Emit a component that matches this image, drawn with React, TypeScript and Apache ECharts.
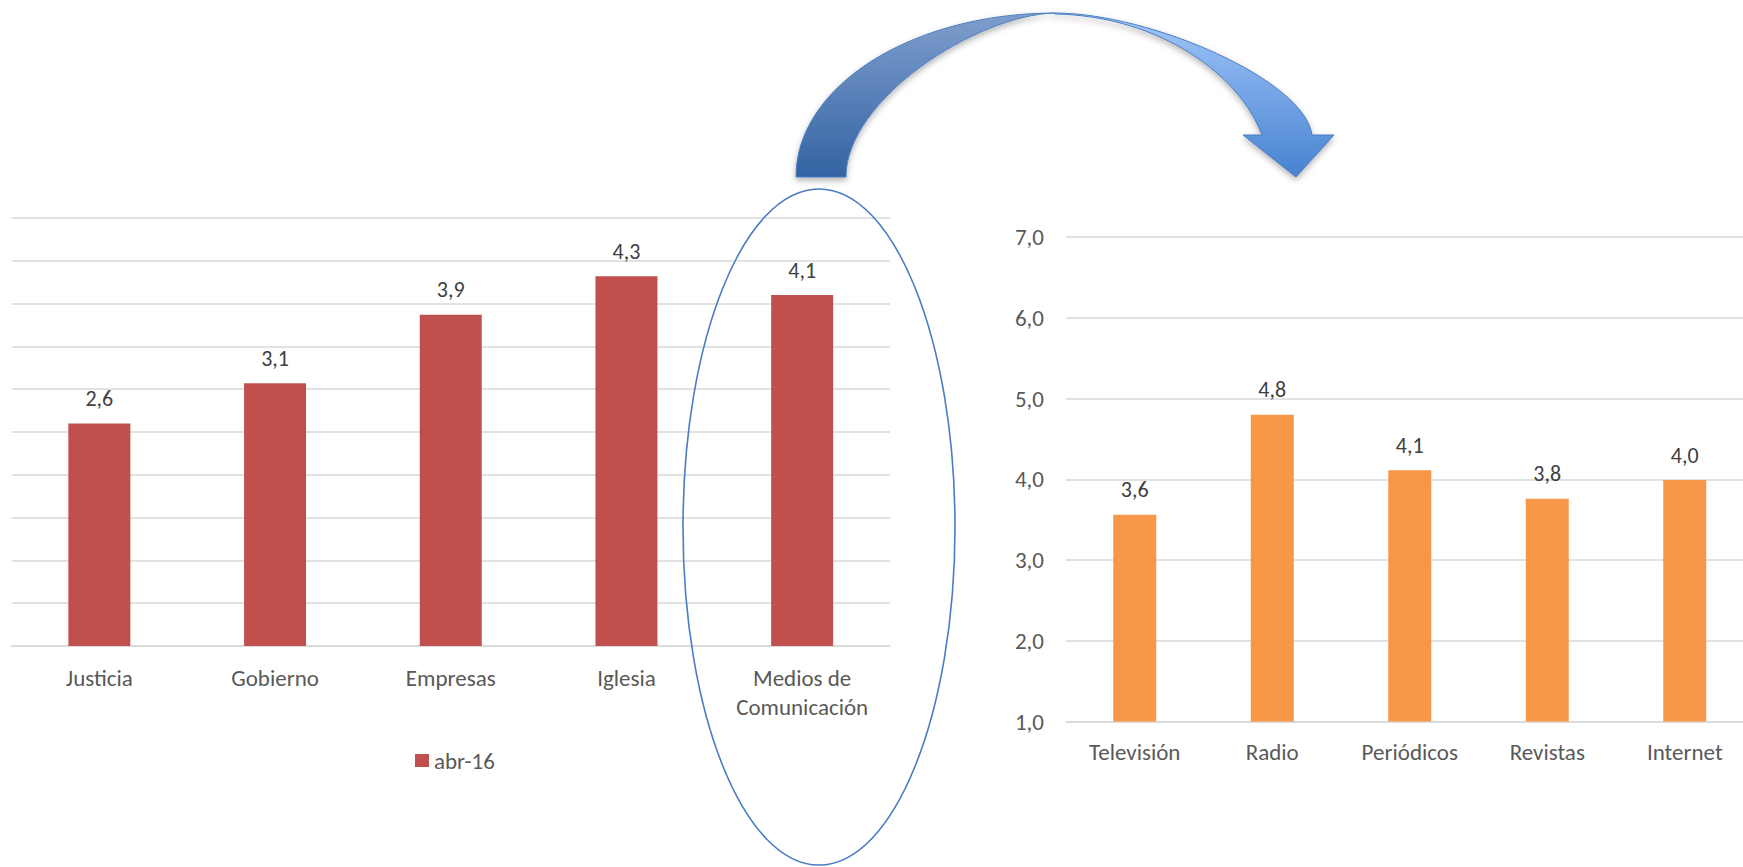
import React, { useEffect, useRef } from "react";
import * as echarts from "echarts";

const leftCategories = ["Justicia", "Gobierno", "Empresas", "Iglesia", "Medios de\nComunicación"];
const leftValues = [2.6, 3.07, 3.87, 4.32, 4.1];
const leftSeriesName = "abr-16";

const rightCategories = ["Televisión", "Radio", "Periódicos", "Revistas", "Internet"];
const rightValues = [3.56, 4.8, 4.11, 3.76, 3.99];

const leftAxisMin = 0;
const leftAxisMax = 5;
const leftAxisStep = 0.5;
const rightAxisMin = 1;
const rightAxisMax = 7;
const rightAxisStep = 1;

const arrowLeftPath =
  "M 796 177 C 796 86, 912 13, 1055 13 C 975 15, 846 100, 846 177 Z";
const arrowRightPath =
  "M 1055 13 C 1150 13, 1305 80, 1312 135 L 1334 135 L 1296 177 L 1243 135 L 1262 135 C 1240 75, 1160 16, 1055 14 Z";

echarts.graphic.registerShape("arrowLeftPart", echarts.graphic.extendPath(arrowLeftPath, {}));
echarts.graphic.registerShape("arrowRightPart", echarts.graphic.extendPath(arrowRightPath, {}));

const FONT = "Carlito, Calibri, Lato, sans-serif";
const AXIS_FS = 23;
const DATA_FS = 22;
const fmt = (v: number) => v.toFixed(1).replace(".", ",");

export default function App() {
  const ref = useRef<HTMLDivElement>(null);
  useEffect(() => {
    document.body.style.margin = "0";
    const chart = echarts.init(ref.current!, undefined, { renderer: "svg" });
    chart.setOption({
      animation: false,
      backgroundColor: "#ffffff",
      textStyle: { fontFamily: FONT },
      legend: {
        data: [leftSeriesName],
        left: 415,
        top: 749,
        padding: 0,
        itemWidth: 14,
        itemHeight: 13,
        itemGap: 10,
        icon: "rect",
        textStyle: { color: "#595959", fontSize: AXIS_FS, fontFamily: FONT },
      },
      grid: [
        { left: 11.5, top: 218, width: 878.5, height: 428, containLabel: false },
        { left: 1066, top: 237, width: 687.5, height: 484.5, containLabel: false },
      ],
      xAxis: [
        {
          type: "category",
          gridIndex: 0,
          data: leftCategories,
          axisLine: { lineStyle: { color: "#D9D9D9", width: 1.5 } },
          axisTick: { show: false },
          axisLabel: {
            interval: 0,
            color: "#595959",
            fontSize: AXIS_FS,
            lineHeight: 29,
            margin: 17,
            fontFamily: FONT,
          },
        },
        {
          type: "category",
          gridIndex: 1,
          data: rightCategories,
          axisLine: { lineStyle: { color: "#D9D9D9", width: 1.5 } },
          axisTick: { show: false },
          axisLabel: {
            interval: 0,
            color: "#595959",
            fontSize: AXIS_FS,
            lineHeight: 29,
            margin: 16,
            fontFamily: FONT,
          },
        },
      ],
      yAxis: [
        {
          type: "value",
          gridIndex: 0,
          min: leftAxisMin,
          max: leftAxisMax,
          interval: leftAxisStep,
          axisLabel: { show: false },
          axisLine: { show: false },
          axisTick: { show: false },
          splitLine: { lineStyle: { color: "#D9D9D9", width: 1.5 } },
        },
        {
          type: "value",
          gridIndex: 1,
          min: rightAxisMin,
          max: rightAxisMax,
          interval: rightAxisStep,
          axisLabel: {
            color: "#595959",
            fontSize: AXIS_FS,
            margin: 22,
            fontFamily: FONT,
            formatter: (v: number) => fmt(v),
          },
          axisLine: { show: false },
          axisTick: { show: false },
          splitLine: { lineStyle: { color: "#D9D9D9", width: 1.5 } },
        },
      ],
      series: [
        {
          name: leftSeriesName,
          type: "bar",
          xAxisIndex: 0,
          yAxisIndex: 0,
          data: leftValues,
          barWidth: 62,
          itemStyle: { color: "#C0504D" },
          label: {
            show: true,
            position: "top",
            distance: 14,
            color: "#404040",
            fontSize: DATA_FS,
            lineHeight: 22,
            fontFamily: FONT,
            formatter: (p: any) => fmt(p.value),
          },
        },
        {
          name: "medios",
          type: "bar",
          xAxisIndex: 1,
          yAxisIndex: 1,
          data: rightValues,
          barWidth: 43,
          itemStyle: { color: "#F79646" },
          label: {
            show: true,
            position: "top",
            distance: 14,
            color: "#404040",
            fontSize: DATA_FS,
            lineHeight: 22,
            fontFamily: FONT,
            formatter: (p: any) => fmt(p.value),
          },
        },
      ],
      graphic: [
        {
          type: "ellipse",
          z: 100,
          shape: { cx: 819, cy: 527, rx: 136, ry: 338 },
          style: { fill: "none", stroke: "#4A7CC4", lineWidth: 1.6 },
        },
        {
          type: "arrowLeftPart",
          z: 100,
          x: 0,
          y: 0,
          style: {
            fill: new echarts.graphic.LinearGradient(0, 0, 0, 1, [
              { offset: 0, color: "#7F9ECD" },
              { offset: 1, color: "#3363A3" },
            ]),
            stroke: "#4A7EC1",
            lineWidth: 1,
            shadowBlur: 6,
            shadowColor: "rgba(0,0,0,0.3)",
            shadowOffsetY: 3,
          },
        },
        {
          type: "arrowRightPart",
          z: 101,
          x: 0,
          y: 0,
          style: {
            fill: new echarts.graphic.LinearGradient(0, 0, 0, 1, [
              { offset: 0, color: "#A2C7FB" },
              { offset: 1, color: "#4782D0" },
            ]),
            stroke: "#4A7EC1",
            lineWidth: 1,
            shadowBlur: 6,
            shadowColor: "rgba(0,0,0,0.3)",
            shadowOffsetY: 3,
          },
        },
      ],
    });
    return () => chart.dispose();
  }, []);
  return (
    <div style={{ position: "absolute", left: 0, top: 0, width: 1743, height: 867, overflow: "hidden" }}>
      <div ref={ref} style={{ position: "absolute", left: 0, top: 0, width: 1780, height: 867 }} />
    </div>
  );
}
